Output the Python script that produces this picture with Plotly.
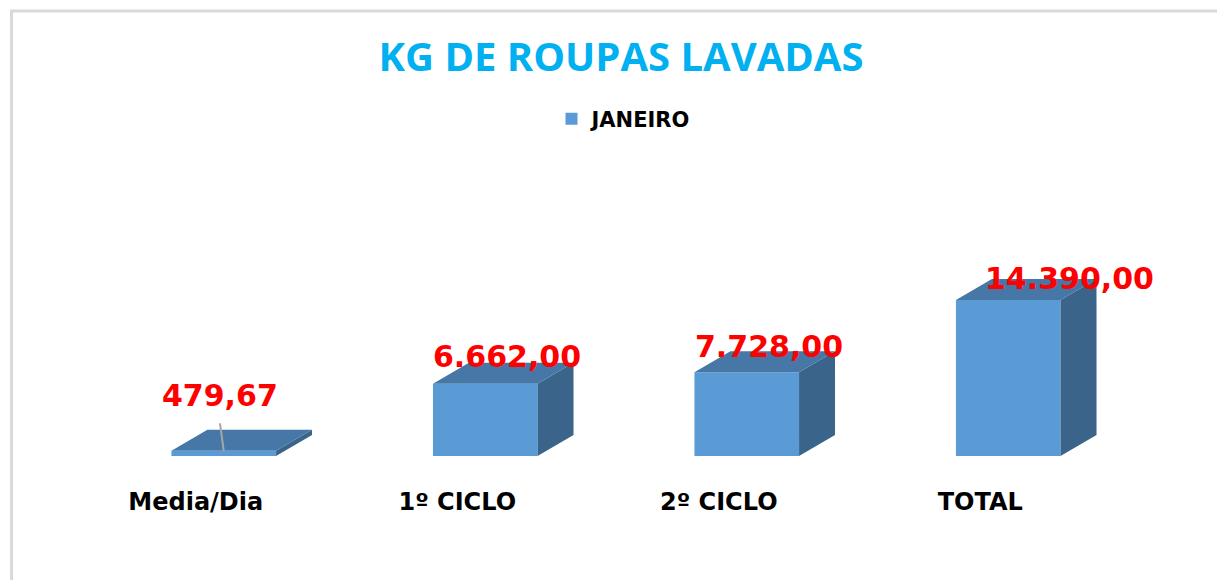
import plotly.graph_objects as go

# ---- data ----
categories = ["Media/Dia", "1º CICLO", "2º CICLO", "TOTAL"]
values = [479.67, 6662.00, 7728.00, 14390.00]
value_labels = ["479,67", "6.662,00", "7.728,00", "14.390,00"]
series_name = "JANEIRO"
title_text = "KG DE ROUPAS LAVADAS"

# ---- styling / layout constants ----
OFF = 8  # default page body margin
W, H = 1225 - OFF, 582 - OFF
ML, MR = 92.5 - OFF, 85.5
MT, MB = 160 - OFF, 126
FRONT = "#5B9BD5"
TOP = "#4677A6"
SIDE = "#3A6489"
BAR_W = 0.4
plot_w = W - ML - MR
plot_h = H - MT - MB
ymax = 27300
x_per_px = 4.0 / plot_w
y_per_px = ymax / plot_h
DX = 36 * x_per_px
DY = 21 * y_per_px

fig = go.Figure()

xs = list(range(len(categories)))

# side and top faces (pseudo 3D), derived from the data values
for i, v in zip(xs, values):
    xr = i + BAR_W / 2
    xl = i - BAR_W / 2
    fig.add_trace(go.Scatter(
        x=[xr, xr, xr + DX, xr + DX, xr], y=[0, v, v + DY, DY, 0],
        fill="toself", fillcolor=SIDE, mode="lines", line=dict(width=0),
        showlegend=False, hoverinfo="skip"))
    fig.add_trace(go.Scatter(
        x=[xl, xr, xr + DX, xl + DX, xl], y=[v, v, v + DY, v + DY, v],
        fill="toself", fillcolor=TOP, mode="lines", line=dict(width=0),
        showlegend=False, hoverinfo="skip"))

fig.add_trace(go.Bar(
    x=xs, y=values, width=BAR_W, name=series_name,
    marker=dict(color=FRONT, line=dict(width=0)), showlegend=True))

# data labels
label_shift = [(-4, 55), (22, 27), (22, 26), (61, 21)]
for i, (v, t, (sx, sy)) in enumerate(zip(values, value_labels, label_shift)):
    fig.add_annotation(x=i, y=v, text=t, showarrow=False, xshift=sx, yshift=sy,
                       font=dict(family="DejaVu Sans", size=30, color="#FF0000", weight="bold"))

# leader line for the small bar
fig.add_annotation(x=0, y=values[0], text="", showarrow=True, arrowhead=0,
                   arrowwidth=2, arrowcolor="#A6A6A6", ax=-4, ay=-29,
                   standoff=0, startstandoff=0)

def px_x(p):
    return (p - OFF - ML) / plot_w

def px_y(p):
    return (H - MB - (p - OFF)) / plot_h

# chart border (top and left)
fig.add_shape(type="line", xref="paper", yref="paper",
              x0=px_x(10), x1=px_x(1240), y0=px_y(11), y1=px_y(11),
              line=dict(color="#D9D9D9", width=3))
fig.add_shape(type="line", xref="paper", yref="paper",
              x0=px_x(11), x1=px_x(11), y0=px_y(10), y1=px_y(580),
              line=dict(color="#D9D9D9", width=3))

fig.update_layout(
    width=W, height=H,
    margin=dict(l=ML, r=MR, t=MT, b=MB),
    paper_bgcolor="white", plot_bgcolor="white",
    title=dict(text=title_text, x=(621 - OFF) / W, xref="container", xanchor="center",
               y=1 - (57 - OFF) / H, yanchor="middle", yref="container",
               font=dict(family="Open Sans", size=40, color="#00B0F0", weight="bold")),
    showlegend=True,
    legend=dict(orientation="h", x=(624 - OFF) / W, xanchor="center", xref="container",
                y=1 - (119 - OFF) / H, yanchor="middle", yref="container",
                font=dict(family="DejaVu Sans", size=21, color="#000000", weight="bold"),
                itemwidth=30),
    xaxis=dict(range=[-0.5, 3.5], tickvals=xs, ticktext=categories,
               showgrid=False, zeroline=False, showline=False, ticks="",
               ticklabelshift=-28, ticklabelstandoff=29,
               tickfont=dict(family="DejaVu Sans", size=24, color="#000000", weight="bold"),
               fixedrange=True),
    yaxis=dict(range=[0, ymax], visible=False, showgrid=False, zeroline=False,
               fixedrange=True),
)

fig.write_html("out.html")
